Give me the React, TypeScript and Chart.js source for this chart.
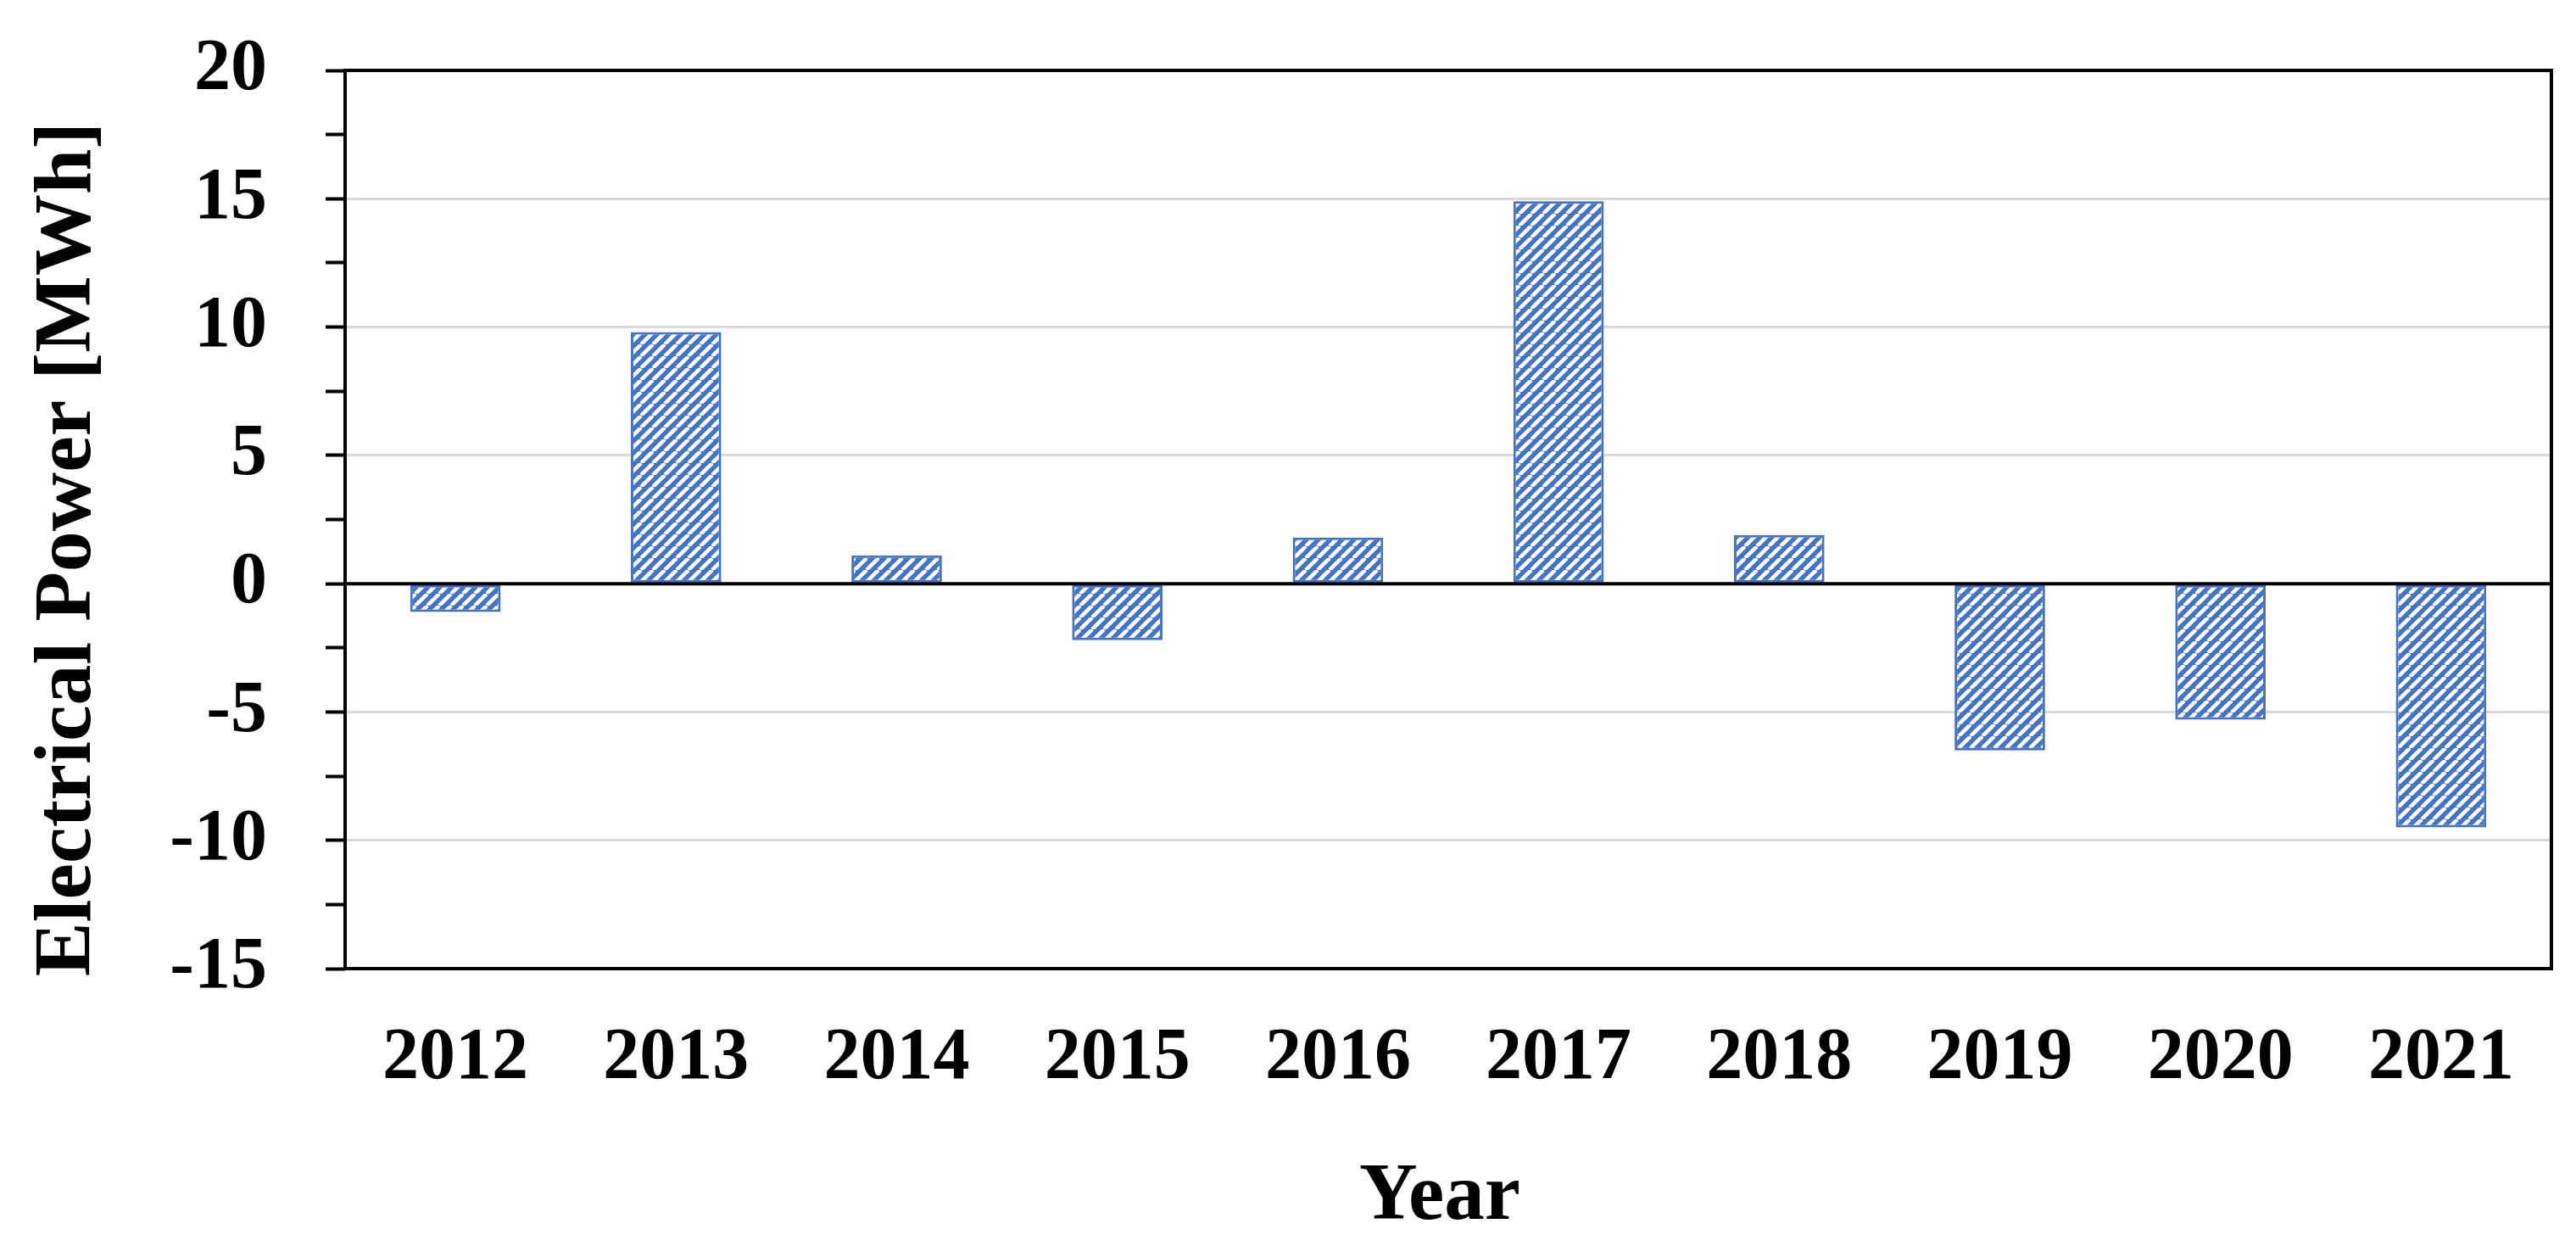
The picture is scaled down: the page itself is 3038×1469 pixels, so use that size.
import React, { useEffect, useRef } from "react";
import { Chart, registerables } from "chart.js";

Chart.register(...registerables);

// ---- data ----
const years = ["2012", "2013", "2014", "2015", "2016", "2017", "2018", "2019", "2020", "2021"];
const powerMWh = [-1.1, 9.8, 1.1, -2.2, 1.8, 14.9, 1.9, -6.5, -5.3, -9.5];
const yMin = -15;
const yMax = 20;
const yStep = 2.5;
const yLabelStep = 5;
const xTitle = "Year";
const yTitle = "Electrical Power [MWh]";

// ---- style ----
const W = 3038;
const H = 1469;
const FONT = '"Liberation Serif", "Times New Roman", serif';
const BLUE = "#4472C4";

function makeHatch(): CanvasPattern | string {
  const s = 14;
  const c = document.createElement("canvas");
  c.width = s;
  c.height = s;
  const g = c.getContext("2d");
  if (!g) return BLUE;
  g.fillStyle = BLUE;
  g.fillRect(0, 0, s, s);
  g.strokeStyle = "#ffffff";
  g.lineWidth = 4.5;
  for (const x0 of [-s, 0, s]) {
    g.beginPath();
    g.moveTo(x0, s);
    g.lineTo(x0 + s, 0);
    g.stroke();
  }
  return g.createPattern(c, "repeat") || BLUE;
}

const framePlugin = {
  id: "frame",
  afterDatasetsDraw(chart: any) {
    const { ctx, chartArea: a, scales } = chart;
    const y0 = scales.y.getPixelForValue(0);
    ctx.save();
    ctx.strokeStyle = "#000";
    ctx.lineWidth = 4;
    ctx.beginPath();
    ctx.moveTo(a.left, y0);
    ctx.lineTo(a.right, y0);
    ctx.stroke();
    ctx.strokeRect(a.left, a.top, a.right - a.left, a.bottom - a.top);

    ctx.fillStyle = "#000";
    ctx.textAlign = "center";
    ctx.textBaseline = "middle";
    ctx.font = `bold 96px ${FONT}`;
    ctx.save();
    ctx.translate(81, (a.top + a.bottom) / 2 + 35);
    ctx.rotate(-Math.PI / 2);
    ctx.fillText(yTitle, 0, 0);
    ctx.restore();

    ctx.font = `bold 95px ${FONT}`;
    ctx.textBaseline = "alphabetic";
    ctx.fillText(xTitle, (a.left + a.right) / 2 - 10, 1437);
    ctx.restore();
  },
};

export default function App() {
  const ref = useRef<HTMLCanvasElement>(null);

  useEffect(() => {
    if (!ref.current) return;
    const hatch = makeHatch();
    const chart = new Chart(ref.current, {
      type: "bar",
      data: {
        labels: years,
        datasets: [
          {
            label: yTitle,
            data: powerMWh,
            backgroundColor: hatch as any,
            borderColor: BLUE,
            borderWidth: 3,
            borderSkipped: false,
            barPercentage: 0.41,
            categoryPercentage: 1,
          },
        ],
      },
      options: {
        responsive: false,
        animation: false,
        layout: { padding: { top: 83, right: 29, left: 0, bottom: 0 } },
        plugins: {
          legend: { display: false },
          tooltip: { enabled: false },
        },
        scales: {
          x: {
            afterFit: (scale: any) => {
              scale.height = H - 1142;
              scale.paddingLeft = 0;
              scale.paddingRight = 0;
            },
            grid: { display: false, drawTicks: false, tickLength: 0 },
            border: { display: false },
            ticks: {
              color: "#000",
              padding: 55,
              autoSkip: false,
              maxRotation: 0,
              font: { family: FONT, size: 86, weight: "bold" },
            },
          },
          y: {
            min: yMin,
            max: yMax,
            afterFit: (scale: any) => {
              scale.width = 407;
              scale.paddingTop = 0;
              scale.paddingBottom = 0;
            },
            border: { display: false },
            grid: {
              color: (c: any) => {
                const v = c.tick ? c.tick.value : undefined;
                if (v === undefined) return "rgba(0,0,0,0)";
                if (v % yLabelStep !== 0 || v === yMin || v === yMax || v === 0) return "rgba(0,0,0,0)";
                return "#d9d9d9";
              },
              lineWidth: 3,
              drawTicks: true,
              tickLength: 23,
              tickWidth: 4,
              tickColor: "#000",
            },
            ticks: {
              stepSize: yStep,
              autoSkip: false,
              color: "#000",
              padding: 69,
              font: { family: FONT, size: 86, weight: "bold" },
              callback: (v: any) => (Number(v) % yLabelStep === 0 ? String(v) : ""),
            },
          },
        },
      },
      plugins: [framePlugin],
    });
    return () => chart.destroy();
  }, []);

  return (
    <div style={{ position: "absolute", left: 0, top: 0, width: W, height: H, background: "#fff" }}>
      <canvas ref={ref} width={W} height={H} style={{ display: "block", width: W, height: H }} />
    </div>
  );
}
